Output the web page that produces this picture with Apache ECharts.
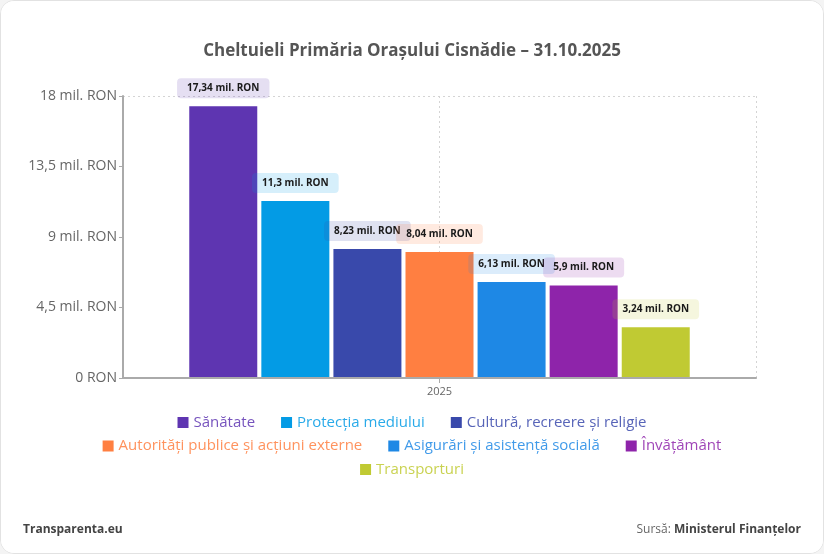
<!DOCTYPE html>
<html>
<head>
<meta charset="utf-8">
<script src="https://cdn.jsdelivr.net/npm/echarts@6/dist/echarts.min.js"></script>
<style>
  html, body { margin: 0; padding: 0; background: #f4f4f4; }
  #card {
    width: 824px; height: 554px; box-sizing: border-box;
    background: #fff; border: 1px solid #e2e2e2; border-radius: 14px; overflow: hidden;
  }
  #chart { width: 100%; height: 100%; }
</style>
</head>
<body>
<div id="card"><div id="chart"></div></div>
<script>
// date
const years = ['2025'];
const seriesNames = [
  'Sănătate',
  'Protecția mediului',
  'Cultură, recreere și religie',
  'Autorități publice și acțiuni externe',
  'Asigurări și asistență socială',
  'Învățământ',
  'Transporturi'
];
// milioane RON
const seriesValues = [17.34, 11.3, 8.23, 8.04, 6.13, 5.9, 3.24];
const seriesColors = ['#5E35B1', '#039BE5', '#3949AB', '#FF7F41', '#1E88E5', '#8E24AA', '#C0CA33'];
const legendRows = [[0, 1, 2], [3, 4, 5], [6]];

const fmtNum = v => String(v).replace('.', ',');

const hexA = (hex, a) => {
  const n = parseInt(hex.slice(1), 16);
  return 'rgba(' + (n >> 16) + ',' + ((n >> 8) & 255) + ',' + (n & 255) + ',' + a + ')';
};

const chart = echarts.init(document.getElementById('chart'));

const series = seriesNames.map((name, i) => ({
  name: name,
  type: 'bar',
  xAxisIndex: 0,
  yAxisIndex: 0,
  barWidth: 68,
  barGap: '6%',
  data: [seriesValues[i]],
  itemStyle: { color: seriesColors[i] },
  label: {
    show: true,
    position: 'top',
    distance: 8,
    formatter: p => fmtNum(p.value) + ' mil. RON',
    fontFamily: 'Open Sans',
    fontWeight: 'bold',
    fontSize: 10,
    color: '#1a1a1a',
    backgroundColor: hexA(seriesColors[i], 0.16),
    padding: [5, 10],
    borderRadius: 4
  }
}));

const legends = legendRows.map((row, r) => ({
  left: 'center',
  top: 409 + r * 23.5,
  icon: 'rect',
  itemWidth: 11,
  itemHeight: 11,
  itemGap: 26,
  textStyle: { fontFamily: 'Open Sans', fontSize: 15 },
  data: row.map(i => ({ name: seriesNames[i], textStyle: { color: hexA(seriesColors[i], 0.85) } }))
}));

const dotted = { type: [2, 3], color: '#d4d4d4', width: 1 };

chart.setOption({
  backgroundColor: '#fff',
  title: [
    {
      text: 'Cheltuieli Primăria Orașului Cisnădie – 31.10.2025',
      left: 'center',
      top: 37,
      textStyle: { fontFamily: 'Open Sans', fontWeight: 'bold', fontSize: 17, color: '#555' }
    },
    {
      text: 'Transparenta.eu',
      left: 17,
      top: 518,
      textStyle: { fontFamily: 'Open Sans', fontWeight: 'bold', fontSize: 12, color: '#444' }
    },
    {
      text: '{n|Sursă: }{b|Ministerul Finanțelor}',
      right: 17,
      top: 518,
      textStyle: {
        rich: {
          n: { fontFamily: 'Open Sans', fontSize: 12, fontWeight: 'normal', color: '#666' },
          b: { fontFamily: 'Open Sans', fontSize: 12, fontWeight: 'bold', color: '#444' }
        }
      }
    }
  ],
  legend: legends,
  grid: { left: 122, right: 67, top: 95, bottom: 175 },
  xAxis: [
    {
      type: 'category',
      data: years,
      z: 3,
      axisLine: { lineStyle: { color: '#aaa', width: 2 } },
      axisTick: { show: true, alignWithLabel: true, length: 5, lineStyle: { color: '#aaa' } },
      axisLabel: { fontFamily: 'Open Sans', fontSize: 11, color: '#666', margin: 8 },
      splitLine: { show: false }
    },
    {
      // doar pentru liniile verticale punctate (mijloc si margine dreapta)
      type: 'value',
      min: 0,
      max: 2,
      interval: 1,
      show: true,
      position: 'top',
      axisLine: { show: false },
      axisTick: { show: false },
      axisLabel: { show: false },
      splitLine: { show: true, lineStyle: dotted }
    }
  ],
  yAxis: [
    {
      type: 'value',
      min: 0,
      max: 18,
      interval: 4.5,
      z: 3,
      axisLine: { show: true, lineStyle: { color: '#aaa', width: 2 } },
      axisTick: { show: true, length: 4, lineStyle: { color: '#aaa' } },
      axisLabel: {
        fontFamily: 'Open Sans',
        fontSize: 14,
        color: '#666',
        margin: 6,
        formatter: v => v === 0 ? '0 RON' : fmtNum(v) + ' mil. RON'
      },
      splitLine: { show: false }
    },
    {
      type: 'value',
      position: 'right',
      min: 0,
      max: 18,
      interval: 18,
      axisLine: { show: false },
      axisTick: { show: false },
      axisLabel: { show: false },
      splitLine: { show: true, lineStyle: dotted }
    }
  ],
  series: series
});
</script>
</body>
</html>
